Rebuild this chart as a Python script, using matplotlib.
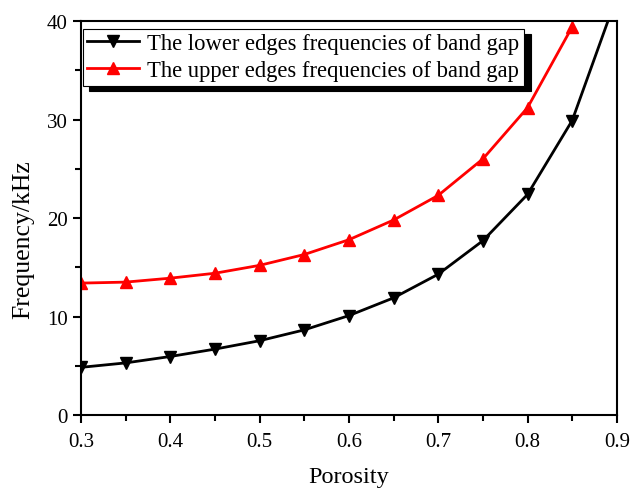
import matplotlib.pyplot as plt
from matplotlib.ticker import MultipleLocator

porosity = [0.3, 0.35, 0.4, 0.45, 0.5, 0.55, 0.6, 0.65, 0.7, 0.75, 0.8, 0.85, 0.9]
lower_edge = [4.85, 5.3, 5.95, 6.7, 7.55, 8.65, 10.1, 11.9, 14.3, 17.7, 22.4, 29.9, 42.5]
porosity_up = [0.3, 0.35, 0.4, 0.45, 0.5, 0.55, 0.6, 0.65, 0.7, 0.75, 0.8, 0.85]
upper_edge = [13.4, 13.5, 13.9, 14.4, 15.2, 16.3, 17.8, 19.8, 22.3, 26.0, 31.2, 39.4]

plt.rcParams["font.family"] = ["Liberation Serif", "DejaVu Serif"]

fig = plt.figure(figsize=(6.32, 4.89), dpi=100)
ax = fig.add_axes([0.128, 0.149, 0.848, 0.806])

ax.plot(porosity, lower_edge, color="black", lw=2, marker="v", ms=8,
        label="The lower edges frequencies of band gap")
ax.plot(porosity_up, upper_edge, color="red", lw=2, marker="^", ms=8,
        label="The upper edges frequencies of band gap")

ax.set_xlim(0.3, 0.9)
ax.set_ylim(0, 40)
ax.xaxis.set_major_locator(MultipleLocator(0.1))
ax.xaxis.set_minor_locator(MultipleLocator(0.05))
ax.yaxis.set_major_locator(MultipleLocator(10))
ax.yaxis.set_minor_locator(MultipleLocator(5))
ax.tick_params(which="major", direction="out", length=6, width=1.5, labelsize=15)
ax.tick_params(axis="x", which="major", pad=6)
ax.tick_params(which="minor", direction="out", length=4, width=1.5)
for s in ax.spines.values():
    s.set_linewidth(1.5)

ax.set_xlabel("Porosity", fontsize=17.5)
ax.set_ylabel("Frequency/kHz", fontsize=18.5)
ax.xaxis.set_label_coords(0.5, -0.13)
ax.yaxis.set_label_coords(-0.087, 0.447)

leg = ax.legend(loc="upper left", fontsize=16.3, frameon=True,
                shadow={"ox": 5, "oy": -4, "color": "black", "alpha": 1},
                fancybox=False, bbox_to_anchor=(0.003, 0.98),
                borderaxespad=0, handlelength=2.3,
                borderpad=0.2, labelspacing=0.25, handletextpad=0.35)
leg.get_frame().set_edgecolor("black")
leg.get_frame().set_linewidth(0.8)

fig.savefig("out.png", dpi=100)
